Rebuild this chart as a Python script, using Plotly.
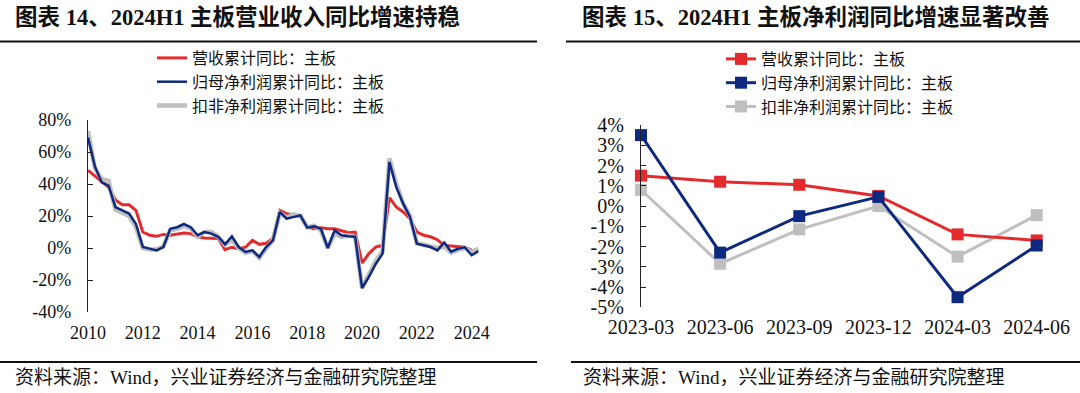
import plotly.graph_objects as go

# ---------------- data ----------------
years_q = [2010 + i / 4 for i in range(58)]  # quarterly 2010Q1 .. 2024Q2

rev_yoy = [48.5, 45, 42, 38,
           30, 27, 27, 23.5,
           10, 8, 7.3, 8.5,
           8, 8.5, 9.4, 9,
           7, 6.3, 6.3, 6,
           -1, 0.5, -0.5, 0.5,
           4.8, 2.3, 3, 6,
           23.5, 21.5, 20.5, 19.5,
           13, 12, 12.7, 12,
           12, 11, 9.6, 10,
           -9.4, -3.5, 0.6, 1.7,
           31.5, 25.6, 22.5, 18.3,
           10, 8, 7, 5.2,
           1.5, 1.2, 1.05, 0.5,
           -1.4, -1.7]

np_yoy = [69, 51, 41, 39,
          25.6, 23.5, 21.5, 15,
          0.6, -0.4, -1.5, 0.6,
          12, 13, 15, 13,
          8, 10, 9, 7,
          2.3, 7.3, 0.6, -2.5,
          -1.5, -5.6, 0.6, 4.8,
          22.5, 18.3, 19.4, 20.4,
          12.7, 13.5, 12, 0,
          11, 8, 7.3, 7,
          -25, -18, -10, -3.5,
          53.7, 38, 27.7, 19.4,
          2.7, 1.7, 0.6, -1.5,
          3.5, -2.3, -0.5, 0.45,
          -4.5, -1.95]

ded_yoy = [73, 50, 43, 42,
           24, 22, 20, 13,
           0, -1, -1, 1,
           11, 12, 14, 12,
           7, 10, 10, 7,
           2, 5, 0, -3,
           -2, -6, 0, 5,
           22, 19, 21, 20,
           13, 14, 11, 0,
           9, 7, 8, 7,
           -25, -17, -8, -2,
           56, 40, 28, 20,
           3, 2, 1, 0,
           0.8, -2.85, -1.15, 0.0,
           -2.5, -0.45]

left_xticks = [2010, 2012, 2014, 2016, 2018, 2020, 2022, 2024]
left_xlabels = ["2010", "2012", "2014", "2016", "2018", "2020", "2022", "2024"]
left_yticks = [-40, -20, 0, 20, 40, 60, 80]
left_ylabels = ["-40%", "-20%", "0%", "20%", "40%", "60%", "80%"]

quarters = ["2023-03", "2023-06", "2023-09", "2023-12", "2024-03", "2024-06"]
q_rev = [1.5, 1.2, 1.05, 0.5, -1.4, -1.7]
q_np = [3.5, -2.3, -0.5, 0.45, -4.5, -1.95]
q_ded = [0.8, -2.85, -1.15, 0.0, -2.5, -0.45]

right_yticks = [-5, -4, -3, -2, -1, 0, 1, 2, 3, 4]
right_ylabels = ["-5%", "-4%", "-3%", "-2%", "-1%", "0%", "1%", "2%", "3%", "4%"]

names = ["营收累计同比：主板", "归母净利润累计同比：主板", "扣非净利润累计同比：主板"]
titles = ["图表 14、2024H1 主板营业收入同比增速持稳", "图表 15、2024H1 主板净利润同比增速显著改善"]
source = "资料来源：Wind，兴业证券经济与金融研究院整理"

# ---------------- style ----------------
RED = "#E42A2D"
NAVY = "#0E2A80"
GREY = "#BFBFBF"
W, H = 1080, 393
SERIF = "Liberation Serif, Times New Roman, Noto Sans CJK SC"
CJK = "Noto Sans CJK SC, Liberation Serif"


def px_x(p):
    return p / W


def px_y(p):
    return 1 - p / H


L_dom_x = [px_x(88), px_x(478.5)]
L_dom_y = [px_y(312), px_y(120)]
R_dom_x = [px_x(641), px_x(1036.7)]
R_dom_y = [px_y(307.3), px_y(125)]

L_yr = [-40, 80]
R_yr = [-5, 4]
L_zero = L_dom_y[0] + (0 - L_yr[0]) / (L_yr[1] - L_yr[0]) * (L_dom_y[1] - L_dom_y[0])
R_zero = R_dom_y[0] + (0 - R_yr[0]) / (R_yr[1] - R_yr[0]) * (R_dom_y[1] - R_dom_y[0])

fig = go.Figure()

# left chart (drawing order: red, grey, blue; legend order red, blue, grey)
fig.add_trace(go.Scatter(x=years_q, y=rev_yoy, mode="lines", name=names[0],
                         line=dict(color=RED, width=3), legend="legend", legendrank=1,
                         xaxis="x", yaxis="y"))
fig.add_trace(go.Scatter(x=years_q, y=ded_yoy, mode="lines", name=names[2],
                         line=dict(color=GREY, width=4.5), legend="legend", legendrank=3,
                         xaxis="x", yaxis="y"))
fig.add_trace(go.Scatter(x=years_q, y=np_yoy, mode="lines", name=names[1],
                         line=dict(color=NAVY, width=2.5), legend="legend", legendrank=2,
                         xaxis="x", yaxis="y"))

# right chart
xpos = list(range(len(quarters)))
fig.add_trace(go.Scatter(x=xpos, y=q_ded, mode="lines+markers", name=names[2],
                         line=dict(color=GREY, width=3),
                         marker=dict(symbol="square", size=12, color=GREY),
                         legend="legend2", legendrank=3, cliponaxis=False,
                         xaxis="x2", yaxis="y2"))
fig.add_trace(go.Scatter(x=xpos, y=q_rev, mode="lines+markers", name=names[0],
                         line=dict(color=RED, width=3),
                         marker=dict(symbol="square", size=12, color=RED),
                         legend="legend2", legendrank=1, cliponaxis=False,
                         xaxis="x2", yaxis="y2"))
fig.add_trace(go.Scatter(x=xpos, y=q_np, mode="lines+markers", name=names[1],
                         line=dict(color=NAVY, width=3),
                         marker=dict(symbol="square", size=12, color=NAVY),
                         legend="legend2", legendrank=2, cliponaxis=False,
                         xaxis="x2", yaxis="y2"))

tickfont_l = dict(family=SERIF, size=18, color="#111111")
tickfont_r = dict(family=SERIF, size=20, color="#111111")
AX = "#222222"

legend_font = dict(family=CJK, size=16, color="#111111")


def leg(xp, yp):
    return dict(x=px_x(xp), y=px_y(yp), xanchor="left", yanchor="middle",
                bgcolor="rgba(0,0,0,0)", font=legend_font, borderwidth=0,
                itemwidth=30, tracegroupgap=0, traceorder="normal")


fig.update_layout(
    template="none",
    width=W, height=H,
    margin=dict(l=0, r=0, t=0, b=0, autoexpand=False),
    paper_bgcolor="white", plot_bgcolor="white",
    showlegend=True,
    xaxis=dict(domain=L_dom_x, range=[2010, 2024.25], anchor="y", automargin=False,
               tickvals=left_xticks, ticktext=left_xlabels, tickfont=tickfont_l,
               showline=False, showgrid=False, zeroline=False, ticks="",
               ticklabelstandoff=8),
    xaxis3=dict(domain=L_dom_x, range=[2010, 2024.25], overlaying="x", automargin=False,
                anchor="free", position=L_zero, tickvals=left_xticks,
                showticklabels=False, showline=True, linecolor=AX, linewidth=1.2,
                ticks="inside", ticklen=5, tickcolor=AX, showgrid=False, zeroline=False),
    yaxis=dict(domain=L_dom_y, range=L_yr, anchor="x", automargin=False,
               tickvals=left_yticks, ticktext=left_ylabels, tickfont=tickfont_l,
               showline=True, linecolor=AX, linewidth=1.2, ticks="inside",
               ticklen=5, tickcolor=AX, showgrid=False, zeroline=False,
               ticklabelstandoff=12),
    xaxis2=dict(domain=R_dom_x, range=[0, len(quarters) - 1], anchor="y2", automargin=False,
                tickvals=xpos, ticktext=quarters, tickfont=tickfont_r,
                showline=False, showgrid=False, zeroline=False, ticks="",
                ticklabelstandoff=6),
    xaxis4=dict(domain=R_dom_x, range=[0, len(quarters) - 1], overlaying="x2", automargin=False,
                anchor="free", position=R_zero, tickvals=xpos,
                showticklabels=False, showline=True, linecolor=AX, linewidth=1.2,
                ticks="inside", ticklen=5, tickcolor=AX, showgrid=False, zeroline=False),
    yaxis2=dict(domain=R_dom_y, range=R_yr, anchor="x2", automargin=False,
                tickvals=right_yticks, ticktext=right_ylabels, tickfont=tickfont_r,
                showline=True, linecolor=AX, linewidth=1.2, ticks="inside",
                ticklen=5, tickcolor=AX, showgrid=False, zeroline=False,
                ticklabelstandoff=12),
    legend=leg(152, 82),
    legend2=leg(721, 83),
)

# titles, rules and source notes
title_font = dict(family=SERIF, size=22.5, color="#111111", weight="bold")
fig.add_annotation(text=titles[0], x=px_x(13), y=px_y(18), xref="paper", yref="paper",
                   xanchor="left", yanchor="middle", showarrow=False, font=title_font)
fig.add_annotation(text=titles[1], x=px_x(580), y=px_y(18), xref="paper", yref="paper",
                   xanchor="left", yanchor="middle", showarrow=False, font=title_font)
src_font = dict(family=SERIF, size=19, color="#111111")
fig.add_annotation(text=source, x=px_x(13), y=px_y(377), xref="paper", yref="paper",
                   xanchor="left", yanchor="middle", showarrow=False, font=src_font)
fig.add_annotation(text=source, x=px_x(581), y=px_y(377), xref="paper", yref="paper",
                   xanchor="left", yanchor="middle", showarrow=False, font=src_font)

for x0, x1, yy in [(0, 537, 41.5), (566, 1080, 41.5), (0, 537, 362), (571, 1080, 362)]:
    fig.add_shape(type="line", xref="paper", yref="paper",
                  x0=px_x(x0), x1=px_x(x1), y0=px_y(yy), y1=px_y(yy),
                  line=dict(color="#111111", width=2))

fig.write_html("out.html",
               config={"displayModeBar": False},
               post_script="document.body.style.margin='0';document.body.style.padding='0';"
                           "document.body.style.overflow='hidden';")
